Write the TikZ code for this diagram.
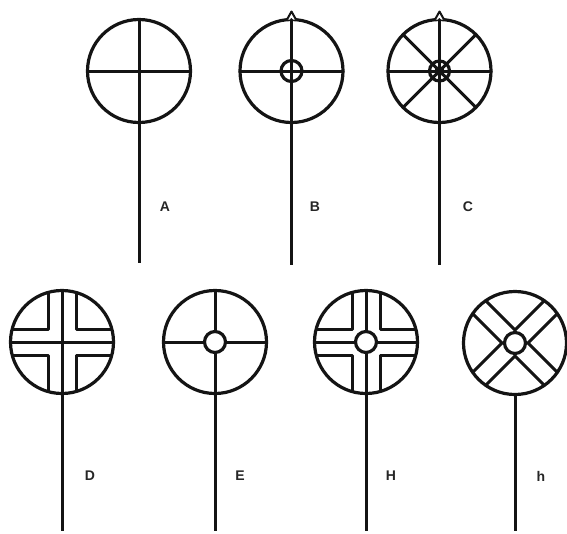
\documentclass[tikz,border=0pt]{standalone}
\usepackage{fontspec}
\setmainfont{Liberation Sans}
\tikzset{
  ink/.style={line width=3pt,black!92,line cap=round,line join=round},
  wheel/.style={circle,draw=black!92,line width=3.2pt,minimum size=103pt,inner sep=0pt,outer sep=0pt},
  hub/.style={circle,draw=black!92,fill=white,line width=3.2pt,minimum size=21pt,inner sep=0pt,outer sep=0pt},
  tag/.style={inner sep=0pt,font=\bfseries\fontsize{14}{14}\selectfont,text=black!85},
}
\newcommand{\finial}[1]{%
  \draw[line width=2pt,black!92,line join=round,fill=white]
    ([shift={(-4.5pt,0pt)}]#1.north) -- ([shift={(0pt,8pt)}]#1.north) -- ([shift={(4.5pt,0pt)}]#1.north);}
% #1 wheel name: the double cross bands of D and H
\newcommand{\bands}[1]{%
  \foreach \sx in {-1,1}\foreach \sy in {-1,1}{
    \coordinate (corner) at ([shift={(\sx*14pt,\sy*13pt)}]#1.center);
    \draw[ink,line cap=butt] ([shift={(\sx*14pt,\sy*49.5pt)}]#1.center) -- (corner) -- ([shift={(\sx*49.5pt,\sy*13pt)}]#1.center);
  }}
\begin{document}
\begin{tikzpicture}[x=1pt,y=-1pt]
\useasboundingbox (0,0) rectangle (567,533);
% endpoints of the stems
\foreach \n/\x/\y in {A/139/263,B/291.5/265,C/439.5/265,D/62/531,E/215/531,H/366/531,h/515/531}
  \coordinate (\n end) at (\x,\y);
% wheels
\node[wheel] (A) at (139,71) {};
\node[wheel] (B) at (291.5,71) {};
\node[wheel] (C) at (439.5,71) {};
\node[wheel] (D) at (62,342) {};
\node[wheel] (E) at (215,342) {};
\node[wheel] (H) at (366,342) {};
\node[wheel] (h) at (515,343) {};
% stems
\foreach \n in {A,B,C,D,E,H,h} \draw[ink,line cap=butt] (\n.south) -- (\n end);
% A
\draw[ink] (A.north) -- (A.south);
\draw[ink] (A.west) -- (A.east);
% B
\finial{B}
\draw[ink] (B.north) -- (B.south);
\draw[ink] (B.west) -- (B.east);
\node[hub,fill=none] (Bh) at (B.center) {};
% C
\finial{C}
\foreach \a in {0,45,90,135} \draw[ink] (C.\a) -- (C.\a+180);
\node[hub,minimum size=20pt,fill=none] (Ch) at (C.center) {};
\node[circle,fill=black!92,minimum size=10pt,inner sep=0pt] (Cc) at (C.center) {};
% D
\bands{D}
\draw[ink] (D.north) -- (D.south);
\draw[ink] (D.west) -- (D.east);
% E
\draw[ink] (E.north) -- (E.south);
\draw[ink] (E.west) -- (E.east);
\node[hub] (Eh) at (E.center) {};
% H
\bands{H}
\draw[ink] (H.north) -- (H.south);
\draw[ink] (H.west) -- (H.east);
\node[hub] (Hh) at (H.center) {};
% h
\foreach \sx in {-1,1}{
  \draw[ink] ([shift={(\sx*29.4pt,42.4pt)}]h.center) -- ([shift={(0pt,13pt)}]h.center);
  \draw[ink] ([shift={(\sx*29.4pt,-42.4pt)}]h.center) -- ([shift={(0pt,-13pt)}]h.center);
  \draw[ink] ([shift={(\sx*42.4pt,29.4pt)}]h.center) -- ([shift={(\sx*13pt,0pt)}]h.center);
  \draw[ink] ([shift={(\sx*42.4pt,-29.4pt)}]h.center) -- ([shift={(\sx*13pt,0pt)}]h.center);
}
\node[hub] (hh) at (h.center) {};
% labels
\node[tag] (lA) at (165,207) {A};
\node[tag] (lB) at (315,207) {B};
\node[tag] (lC) at (468,207) {C};
\node[tag] (lD) at (90,476) {D};
\node[tag] (lE) at (240,476) {E};
\node[tag] (lH) at (391,476) {H};
\node[tag] (lh) at (541,476) {h};
\end{tikzpicture}
\end{document}
